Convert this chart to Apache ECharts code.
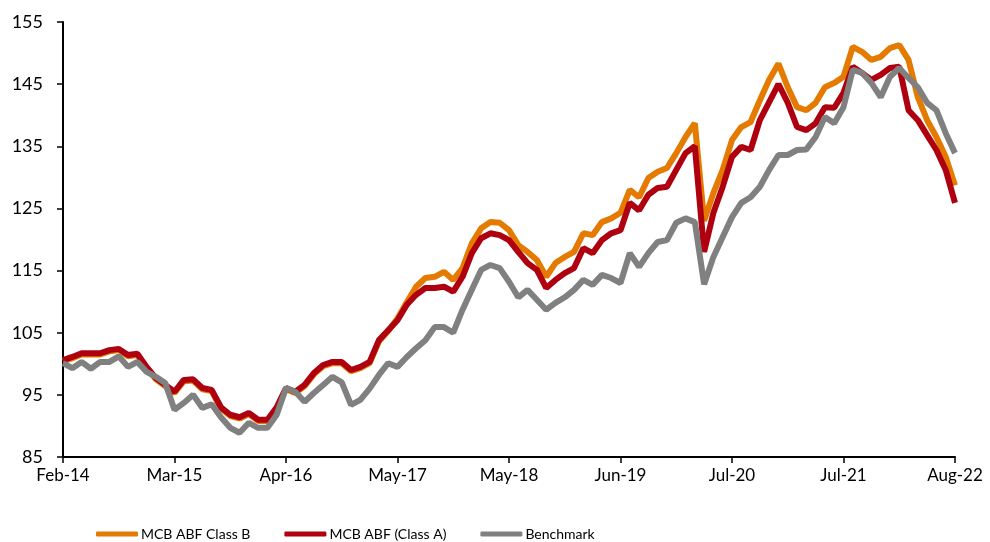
<!DOCTYPE html>
<html>
<head>
<meta charset="utf-8">
<title>MCB ABF</title>
<script src="https://cdn.jsdelivr.net/npm/echarts@6/dist/echarts.min.js"></script>
<style>
  html, body { margin: 0; padding: 0; background: #fff; }
  #chart { width: 990px; height: 542px; }
</style>
</head>
<body>
<div id="chart"></div>
<script>
// x tick labels, one every 12 points
const tickLabels = ['Feb-14', 'Mar-15', 'Apr-16', 'May-17', 'May-18', 'Jun-19', 'Jul-20', 'Jul-21', 'Aug-22'];

// MCB ABF Class B
const classB = [
  100.4, 100.9, 101.5, 101.5, 101.5, 102.0, 102.2, 101.2, 101.4, 99.3,
  97.5, 96.4, 95.3, 97.2, 97.3, 95.9, 95.6, 92.8, 91.6, 91.2,
  91.9, 90.8, 90.8, 92.8, 95.9, 95.3, 96.4, 98.3, 99.6, 100.1,
  100.1, 98.8, 99.3, 100.1, 103.6, 105.3, 107.3, 109.9, 112.4, 113.8,
  114.0, 114.8, 113.5, 115.4, 119.4, 121.8, 122.8, 122.7, 121.5, 119.1,
  118.0, 116.7, 114.0, 116.2, 117.2, 118.0, 121.0, 120.7, 122.8, 123.4,
  124.3, 128.0, 126.8, 129.9, 130.9, 131.5, 133.9, 136.5, 138.7, 123.0,
  127.5, 131.2, 136.0, 138.1, 138.9, 142.4, 145.7, 148.3, 144.5, 141.3,
  140.8, 142.0, 144.5, 145.2, 146.2, 151.0, 150.2, 148.9, 149.4, 150.8,
  151.3, 148.9, 142.9, 139.2, 136.5, 133.3, 128.7
];

// MCB ABF (Class A)
const classA = [
  100.6, 101.1, 101.7, 101.7, 101.7, 102.2, 102.4, 101.4, 101.6, 99.5,
  97.7, 96.6, 95.5, 97.4, 97.5, 96.1, 95.8, 93.0, 91.8, 91.4,
  92.1, 91.0, 91.0, 93.0, 96.1, 95.5, 96.6, 98.5, 99.8, 100.3,
  100.3, 99.0, 99.5, 100.3, 103.8, 105.4, 107.0, 109.5, 111.1, 112.2,
  112.2, 112.4, 111.6, 114.0, 117.8, 120.2, 121.0, 120.7, 119.9, 118.0,
  116.2, 115.1, 112.2, 113.5, 114.6, 115.4, 118.6, 117.8, 119.9, 121.0,
  121.5, 125.9, 124.7, 127.2, 128.3, 128.5, 131.2, 133.9, 135.0, 118.0,
  124.3, 128.5, 133.3, 134.9, 134.4, 139.2, 142.1, 145.0, 142.0, 138.1,
  137.6, 138.7, 141.3, 141.2, 143.6, 147.8, 146.8, 145.7, 146.5, 147.6,
  147.8, 140.8, 139.2, 136.8, 134.4, 131.2, 125.9
];

// Benchmark
const benchmark = [
  100.1, 99.3, 100.3, 99.2, 100.3, 100.3, 101.2, 99.5, 100.3, 98.7,
  97.9, 96.9, 92.6, 93.7, 95.0, 92.9, 93.5, 91.4, 89.7, 88.9,
  90.5, 89.7, 89.7, 91.8, 96.1, 95.5, 93.9, 95.3, 96.6, 97.9,
  97.0, 93.4, 94.2, 96.0, 98.2, 100.1, 99.5, 101.1, 102.5, 103.8,
  105.9, 105.9, 105.0, 108.7, 111.9, 115.1, 115.9, 115.4, 113.2, 110.7,
  111.9, 110.3, 108.7, 109.8, 110.7, 111.9, 113.5, 112.7, 114.3, 113.8,
  113.0, 117.8, 115.6, 117.8, 119.6, 119.9, 122.7, 123.4, 122.8, 112.8,
  117.2, 120.4, 123.6, 125.9, 126.8, 128.5, 131.2, 133.6, 133.6, 134.4,
  134.5, 136.5, 139.7, 138.7, 141.3, 147.3, 146.8, 145.2, 142.9, 146.2,
  147.6, 146.0, 144.5, 142.0, 140.8, 137.1, 133.9
];

const categories = benchmark.map((v, i) => String(i));

const font = 'Lato, "Open Sans", sans-serif';

const myChart = echarts.init(document.getElementById('chart'));
const option = {
  animation: false,
  textStyle: { fontFamily: font },
  grid: { left: 63, right: 35, top: 22, bottom: 85 },
  legend: {
    left: 91,
    top: 522,
    itemWidth: 42,
    itemHeight: 5,
    itemGap: 34,
    icon: 'roundRect',
    textStyle: { fontFamily: font, fontSize: 14, color: '#000', padding: [0, 0, 0, -2] },
    data: ['MCB ABF Class B', 'MCB ABF (Class A)', 'Benchmark']
  },
  xAxis: {
    type: 'category',
    boundaryGap: false,
    data: categories,
    axisLine: { lineStyle: { color: '#000', width: 2 } },
    axisTick: { interval: 11, length: 6, lineStyle: { color: '#000', width: 1.5 } },
    axisLabel: {
      interval: 11,
      margin: 10,
      color: '#000',
      fontSize: 17,
      fontFamily: font,
      formatter: (val, idx) => tickLabels[Math.round(idx / 12)]
    },
    splitLine: { show: false }
  },
  yAxis: {
    type: 'value',
    min: 85,
    max: 155,
    interval: 10,
    axisLine: { show: true, lineStyle: { color: '#000', width: 2 } },
    axisTick: { show: true, length: 6, lineStyle: { color: '#000', width: 1.5 } },
    axisLabel: { margin: 20, color: '#000', fontSize: 18, fontFamily: font },
    splitLine: { show: false }
  },
  series: [
    {
      name: 'MCB ABF Class B',
      type: 'line',
      data: classB,
      showSymbol: false,
      color: '#E47A00',
      lineStyle: { width: 6, color: '#E47A00' }
    },
    {
      name: 'MCB ABF (Class A)',
      type: 'line',
      data: classA,
      showSymbol: false,
      color: '#AF0010',
      lineStyle: { width: 6, color: '#AF0010' }
    },
    {
      name: 'Benchmark',
      type: 'line',
      data: benchmark,
      showSymbol: false,
      color: '#808080',
      lineStyle: { width: 6, color: '#808080' }
    }
  ]
};
myChart.setOption(option);
window.addEventListener('resize', () => {
  myChart.resize();
});
</script>
</body>
</html>
